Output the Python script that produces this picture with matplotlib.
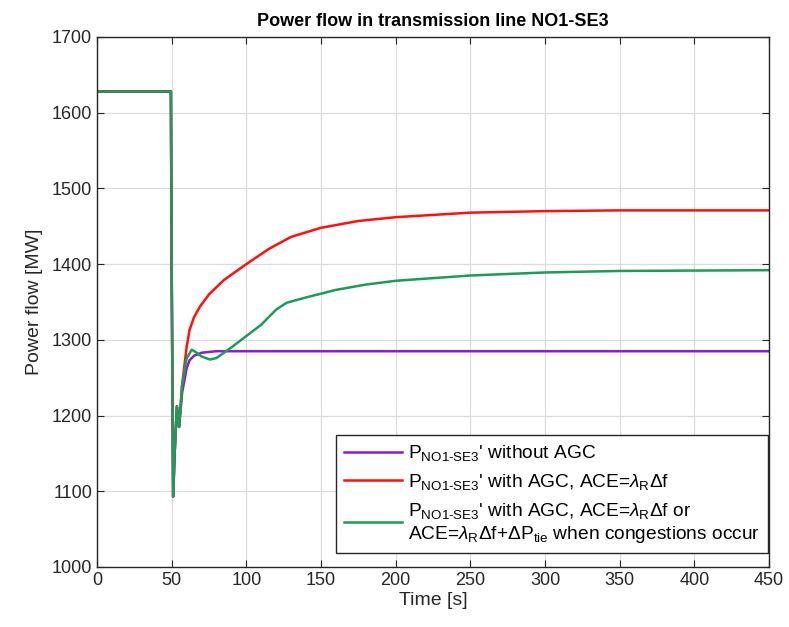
import numpy as np
import matplotlib.pyplot as plt

plt.rcParams['font.family'] = ['Liberation Sans', 'DejaVu Sans']
plt.rcParams['mathtext.fontset'] = 'custom'
plt.rcParams['mathtext.rm'] = 'Liberation Sans'
plt.rcParams['mathtext.it'] = 'Liberation Sans:italic'
plt.rcParams['mathtext.sf'] = 'Liberation Sans'

# Données (temps en s, puissance en MW)
t_no_agc = [0, 49.5, 50, 51, 52, 53.5, 55, 57, 60, 62, 65, 70, 80, 100, 450]
p_no_agc = [1628, 1628, 1400, 1093, 1150, 1212, 1185, 1230, 1262, 1273, 1279, 1283, 1285, 1285, 1285]

t_agc = [0, 49.5, 50, 51, 52, 53.5, 55, 57, 60, 62, 65, 69, 75, 85, 100, 115, 130,
         150, 175, 200, 250, 300, 350, 450]
p_agc = [1628, 1628, 1400, 1093, 1150, 1212, 1185, 1240, 1290, 1313, 1330, 1344, 1360,
         1379, 1400, 1420, 1436, 1448, 1457, 1462, 1468, 1470, 1471, 1471]

t_cong = [0, 49.5, 50, 51, 52, 53.5, 55, 57, 60, 63.4, 66, 70, 75.7, 80, 90, 100, 110,
          120, 127, 140, 160, 180, 200, 250, 300, 350, 450]
p_cong = [1628, 1628, 1400, 1093, 1150, 1212, 1185, 1240, 1275, 1287, 1284, 1278, 1274,
          1276, 1290, 1305, 1320, 1340, 1349, 1356, 1366, 1373, 1378, 1385, 1389, 1391, 1392]

labels = [r"P$_{\mathrm{NO1\text{-}SE3}}$' without AGC",
          r"P$_{\mathrm{NO1\text{-}SE3}}$' with AGC, ACE=$\lambda_{\mathrm{R}}\Delta$f",
          r"P$_{\mathrm{NO1\text{-}SE3}}$' with AGC, ACE=$\lambda_{\mathrm{R}}\Delta$f or" + "\n"
          + r"ACE=$\lambda_{\mathrm{R}}\Delta$f+$\Delta$P$_{\mathrm{tie}}$ when congestions occur"]

fig = plt.figure(figsize=(7.89, 6.27), dpi=100)
ax = fig.add_axes([0.1229, 0.0957, 0.8518, 0.8453])

ax.plot(t_no_agc, p_no_agc, color='#8A1BD8', linewidth=1.8, label=labels[0])
ax.plot(t_agc, p_agc, color='#FF1010', linewidth=1.8, label=labels[1])
ax.plot(t_cong, p_cong, color='#1E9A5A', linewidth=1.8, label=labels[2])

ax.set_xlim(0, 450)
ax.set_ylim(1000, 1700)
ax.set_xticks(np.arange(0, 451, 50))
ax.set_yticks(np.arange(1000, 1701, 100))
ax.grid(True, color='#dcdcdc', linewidth=0.9)
ax.tick_params(direction='in', top=True, right=True, labelsize=13,
               colors='#262626', length=5)
for s in ax.spines.values():
    s.set_color('#262626')
    s.set_linewidth(1.0)

ax.set_xlabel('Time [s]', fontsize=14, color='#262626', labelpad=2)
ax.set_ylabel('Power flow [MW]', fontsize=14, color='#262626', labelpad=6)
ax.set_title('Power flow in transmission line NO1-SE3', fontsize=13,
             fontweight='bold', pad=8)

leg = ax.legend(loc='lower right', bbox_to_anchor=(0.9985, 0.026),
                fontsize=13.8, fancybox=False, framealpha=1,
                edgecolor='#262626', handlelength=3.0, handletextpad=0.3,
                borderaxespad=0.0, borderpad=0.45, labelspacing=0.45)
leg.get_frame().set_linewidth(1.0)

fig.savefig('out.png', dpi=100)
